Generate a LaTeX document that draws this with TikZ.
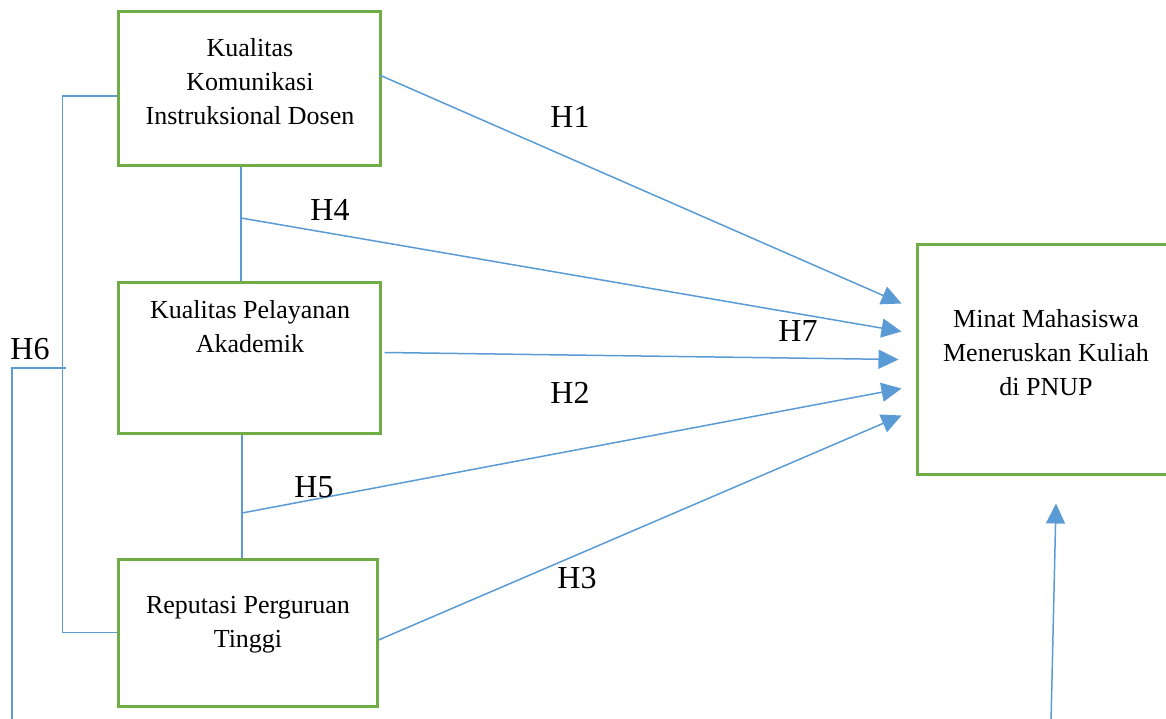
\documentclass[tikz,border=0pt]{standalone}
\usepackage{fontspec}
\setmainfont{Liberation Serif}
\usetikzlibrary{arrows.meta,calc}
\definecolor{boxgreen}{HTML}{70AD47}
\definecolor{linkblue}{HTML}{5B9BD5}

\begin{document}
\begin{tikzpicture}[x=1pt,y=-1pt,
  box/.style={draw=boxgreen,line width=3pt,inner sep=0pt},
  boxtext/.style={align=center,font=\fontsize{26}{34}\selectfont},
  hyp/.style={font=\fontsize{32}{38}\selectfont},
  conn/.style={draw=linkblue,line width=1.5pt},
  arr/.style={conn,-{Triangle[length=20pt,width=19pt]}}]
\useasboundingbox (0,0) rectangle (1166,719);
\clip (0,0) rectangle (1166,719);
\node[box,minimum width=262pt,minimum height=154pt] (kom) at (249,89) {};
\node[boxtext] (komtext) at (250,82) {Kualitas\\Komunikasi\\Instruksional Dosen};
\node[box,minimum width=262pt,minimum height=151pt] (pel) at (249,357.5) {};
\node[boxtext] (peltext) at (250,327) {Kualitas Pelayanan\\Akademik};
\node[box,minimum width=259pt,minimum height=147pt] (rep) at (247.5,632.5) {};
\node[boxtext] (reptext) at (248,625) {Reputasi Perguruan\\Tinggi};
\node[box,minimum width=260pt,minimum height=229pt] (minat) at (1047,359.5) {};
\node[boxtext] (minattext) at (1046,353) {Minat Mahasiswa\\Meneruskan Kuliah\\di PNUP};
\draw[conn] ($(kom.west)+(0,7)$) -- ++(-54,0) |- (rep.west);
\coordinate (h6a) at (66,368);
\coordinate (h6b) at (12,722);
\draw[conn] (h6a) -| (h6b);
\draw[conn] ($(kom.south)+(-8,0)$) -- ($(pel.north)+(-8,0)$);
\draw[conn] ($(pel.south)+(-7,0)$) -- ($(rep.north)+(-5.5,0)$);
\coordinate (h4s) at (241,218);
\coordinate (h5s) at (242,513);
\draw[arr] ($(kom.east)+(-2,-14)$) -- ($(minat.west)+(-14,-56)$);
\draw[arr] (h4s) -- ($(minat.west)+(-14,-28)$);
\draw[arr] ($(pel.east)+(3,-5)$) -- ($(minat.west)+(-17,0)$);
\draw[arr] (h5s) -- ($(minat.west)+(-14,29)$);
\draw[arr] ($(rep.east)+(0,7.5)$) -- ($(minat.west)+(-14,56)$);
\coordinate (bot) at (1051,722);
\draw[arr] (bot) -- ($(minat.south)+(9,28)$);
\node[hyp] (h1) at (570,117) {H1};
\node[hyp] (h4) at (330,210) {H4};
\node[hyp] (h7) at (798,331) {H7};
\node[hyp] (h2) at (570,393) {H2};
\node[hyp] (h5) at (314,487) {H5};
\node[hyp] (h3) at (577,578) {H3};
\node[hyp] (h6) at (30,349) {H6};
\end{tikzpicture}
\end{document}
